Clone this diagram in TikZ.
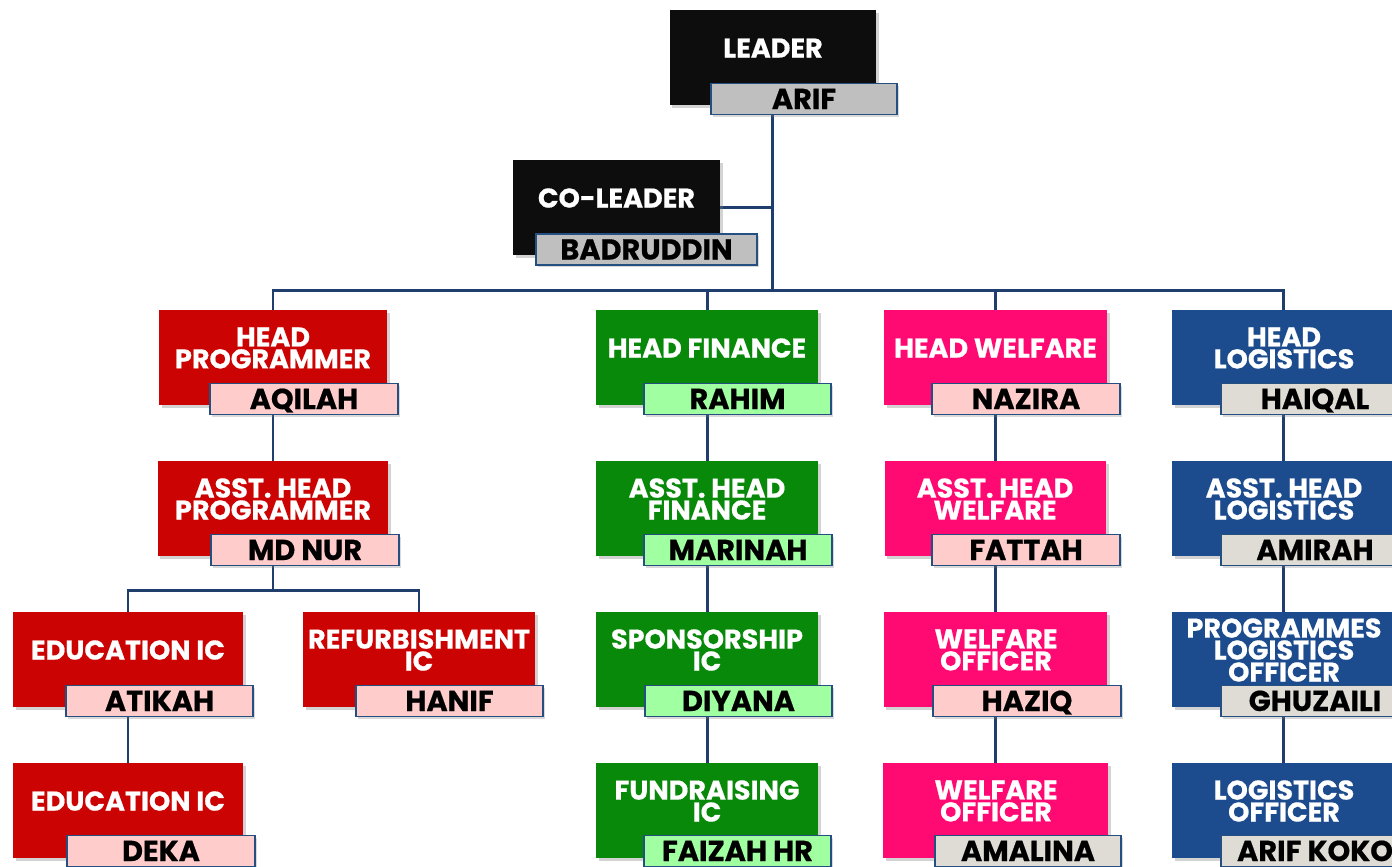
\documentclass[tikz,border=0pt]{standalone}
\usepackage{fontspec}
\newfontfamily\chartfont{Poppins}[FakeBold=0.6]
\usetikzlibrary{shadows,backgrounds}
\definecolor{leadblack}{HTML}{0D0D0D}
\definecolor{leadgrey}{HTML}{BFBFBF}
\definecolor{progred}{HTML}{CC0303}
\definecolor{progpink}{HTML}{FFCCCC}
\definecolor{fingreen}{HTML}{08890A}
\definecolor{finlight}{HTML}{A0FFA0}
\definecolor{welfpink}{HTML}{FF0A72}
\definecolor{logblue}{HTML}{1D4C8E}
\definecolor{logbeige}{HTML}{DEDCD4}
\definecolor{linkblue}{HTML}{1F3E6D}
\definecolor{namerule}{HTML}{254F80}
\tikzset{font=\chartfont\bfseries}
\tikzset{
  rolebox/.style={rectangle, inner sep=0pt, minimum height=1.9cm,
    drop shadow={shadow xshift=1.6pt, shadow yshift=-1.6pt, opacity=.35}},
  roletext/.style={text=white, align=center, inner sep=0pt,
    font=\chartfont\bfseries\fontsize{15.4}{12.5}\selectfont},
  namebox/.style={rectangle, draw=namerule, line width=1.1pt, inner sep=0pt,
    minimum height=.62cm, text height=11.4pt, text depth=0pt,
    font=\chartfont\bfseries\fontsize{16.4}{16}\selectfont,
    drop shadow={shadow xshift=1.4pt, shadow yshift=-1.4pt, opacity=.3}},
  link/.style={draw=linkblue, line width=1.7pt}
}

\begin{document}
\begin{tikzpicture}[x=.02cm,y=-.02cm]
  \useasboundingbox (0,0) rectangle (1392,866);
  \clip (0,0) rectangle (1392,866);

  % top
  \node[rolebox,fill=leadblack,minimum width=4.14cm] (leader) at (773,57.5) {};
  \node[roletext] (leadert) at (773,48) {LEADER};
  \node[namebox,fill=leadgrey,minimum width=3.72cm] (leadern) at (804,99) {ARIF};
  \node[rolebox,fill=leadblack,minimum width=4.14cm] (coleader) at (616.5,207.5) {};
  \node[roletext] (coleadert) at (616.5,198) {CO-LEADER};
  \node[namebox,fill=leadgrey,minimum width=4.42cm] (coleadern) at (646.5,249.5) {BADRUDDIN};

  % programme
  \node[rolebox,fill=progred,minimum width=4.56cm] (hp) at (273,357.5) {};
  \node[roletext] (hpt) at (273,348) {HEAD\\PROGRAMMER};
  \node[namebox,fill=progpink,minimum width=3.76cm] (hpn) at (304,399) {AQILAH};
  \node[rolebox,fill=progred,minimum width=4.62cm] (ahp) at (273,508.5) {};
  \node[roletext] (ahpt) at (273,499) {ASST. HEAD\\PROGRAMMER};
  \node[namebox,fill=progpink,minimum width=3.76cm] (ahpn) at (305,550) {MD NUR};
  \node[rolebox,fill=progred,minimum width=4.6cm] (edu) at (128,659.5) {};
  \node[roletext] (edut) at (128,650) {EDUCATION IC};
  \node[namebox,fill=progpink,minimum width=3.74cm] (edun) at (159.5,701) {ATIKAH};
  \node[rolebox,fill=progred,minimum width=4.64cm] (refurb) at (419,659.5) {};
  \node[roletext] (refurbt) at (419,650) {REFURBISHMENT\\IC};
  \node[namebox,fill=progpink,minimum width=3.74cm] (refurbn) at (449.5,701) {HANIF};
  \node[rolebox,fill=progred,minimum width=4.6cm] (edub) at (128,810.5) {};
  \node[roletext] (edubt) at (128,801) {EDUCATION IC};
  \node[namebox,fill=progpink,minimum width=3.76cm] (edubn) at (161,851) {DEKA};

  % finance
  \node[rolebox,fill=fingreen,minimum width=4.44cm] (hf) at (707,357.5) {};
  \node[roletext] (hft) at (707,348) {HEAD FINANCE};
  \node[namebox,fill=finlight,minimum width=3.74cm] (hfn) at (737.5,399) {RAHIM};
  \node[rolebox,fill=fingreen,minimum width=4.44cm] (ahf) at (707,508.5) {};
  \node[roletext] (ahft) at (707,499) {ASST. HEAD\\FINANCE};
  \node[namebox,fill=finlight,minimum width=3.76cm] (ahfn) at (738,550) {MARINAH};
  \node[rolebox,fill=fingreen,minimum width=4.44cm] (spons) at (707,659.5) {};
  \node[roletext] (sponst) at (707,650) {SPONSORSHIP\\IC};
  \node[namebox,fill=finlight,minimum width=3.74cm] (sponsn) at (738.5,701) {DIYANA};
  \node[rolebox,fill=fingreen,minimum width=4.44cm] (fund) at (707,810.5) {};
  \node[roletext] (fundt) at (707,801) {FUNDRAISING\\IC};
  \node[namebox,fill=finlight,minimum width=3.74cm] (fundn) at (737.5,851) {FAIZAH HR};

  % welfare
  \node[rolebox,fill=welfpink,minimum width=4.46cm] (hw) at (995.5,357.5) {};
  \node[roletext] (hwt) at (995.5,348) {HEAD WELFARE};
  \node[namebox,fill=progpink,minimum width=3.76cm] (hwn) at (1026,399) {NAZIRA};
  \node[rolebox,fill=welfpink,minimum width=4.44cm] (ahw) at (995.5,508.5) {};
  \node[roletext] (ahwt) at (995,499) {ASST. HEAD\\WELFARE};
  \node[namebox,fill=progpink,minimum width=3.76cm] (ahwn) at (1026,550) {FATTAH};
  \node[rolebox,fill=welfpink,minimum width=4.48cm] (wo) at (995.5,659.5) {};
  \node[roletext] (wot) at (996,650) {WELFARE\\OFFICER};
  \node[namebox,fill=progpink,minimum width=3.76cm] (won) at (1027,701) {HAZIQ};
  \node[rolebox,fill=welfpink,minimum width=4.5cm] (wob) at (995.5,810.5) {};
  \node[roletext] (wobt) at (996,801) {WELFARE\\OFFICER};
  \node[namebox,fill=logbeige,minimum width=3.72cm] (wobn) at (1028,851) {AMALINA};

  % logistics
  \node[rolebox,fill=logblue,minimum width=4.44cm] (hl) at (1283,357.5) {};
  \node[roletext] (hlt) at (1284,348) {HEAD\\LOGISTICS};
  \node[namebox,fill=logbeige,minimum width=3.76cm] (hln) at (1315,399) {HAIQAL};
  \node[rolebox,fill=logblue,minimum width=4.44cm] (ahl) at (1283,508.5) {};
  \node[roletext] (ahlt) at (1284,499) {ASST. HEAD\\LOGISTICS};
  \node[namebox,fill=logbeige,minimum width=3.76cm] (ahln) at (1315,550) {AMIRAH};
  \node[rolebox,fill=logblue,minimum width=4.44cm] (plo) at (1283,659.5) {};
  \node[roletext] (plot) at (1284,650) {PROGRAMMES\\LOGISTICS\\OFFICER};
  \node[namebox,fill=logbeige,minimum width=3.76cm] (plon) at (1315,701) {GHUZAILI};
  \node[rolebox,fill=logblue,minimum width=4.44cm] (lo) at (1283,810.5) {};
  \node[roletext] (lot) at (1284,801) {LOGISTICS\\OFFICER};
  \node[namebox,fill=logbeige,minimum width=3.76cm] (lon) at (1315,851) {ARIF KOKO};

  \begin{scope}[on background layer]
    \coordinate (bus) at (772,290);
    \coordinate (split) at (273,590);
    \draw[link] (leader.center -| bus) -- (bus);
    \draw[link] (coleader) -- (coleader -| bus);
    \draw[link] (hp) -- (hp |- bus) -- (hl |- bus) -- (hl);
    \draw[link] (hf) -- (hf |- bus);
    \draw[link] (hw) -- (hw |- bus);
    \draw[link] (hp) -- (ahp);
    \draw[link] (ahp) -- (split);
    \draw[link] (edub) -- (edu) |- (split) -| (refurb);
    \draw[link] (hf) -- (ahf) -- (spons) -- (fund);
    \draw[link] (hw) -- (ahw) -- (wo) -- (wob);
    \draw[link] (hl) -- (ahl) -- (plo) -- (lo);
  \end{scope}
\end{tikzpicture}
\end{document}
